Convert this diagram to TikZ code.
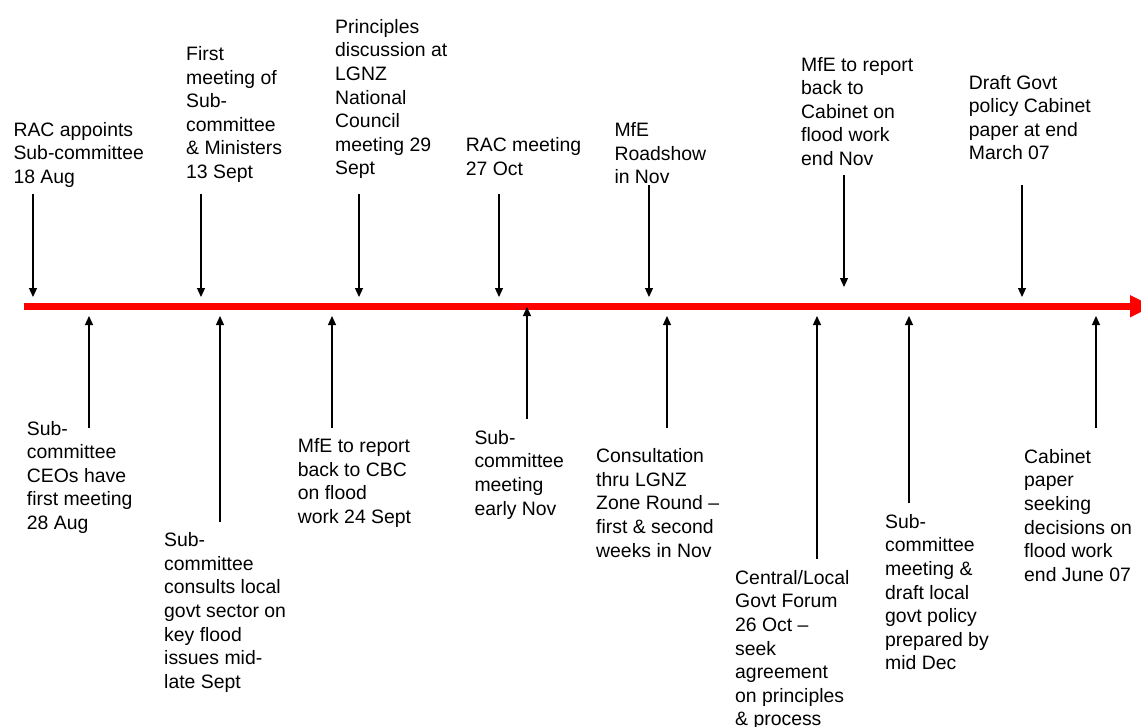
\documentclass[tikz,border=0pt]{standalone}
\usepackage{fontspec}
\setmainfont{Liberation Sans}
\usetikzlibrary{arrows.meta}
\definecolor{tlred}{RGB}{255,0,0}
\newcommand\tlines[1]{\begin{tabular}[t]{@{}l@{}}#1\end{tabular}}
\begin{document}
\begin{tikzpicture}[x=1pt,y=-1pt,
  lbl/.style={anchor=base west, inner sep=0pt, font=\fontsize{19.4}{23.6}\selectfont},
  evt/.style={-{Triangle[length=9pt,width=8pt]}, line width=1.2pt, draw=black}]
\useasboundingbox (0,0) rectangle (1141,726);
\clip (0,0) rectangle (1141,726);
% timeline
\fill[tlred] (24,302.5) rectangle (1130,310);
\fill[tlred] (1130,295) -- (1152,306.25) -- (1130,317.5) -- cycle;
% top labels
\node[lbl] (t1) at (13.3,136) {\tlines{RAC appoints\\Sub-committee\\18 Aug}};
\node[lbl] (t2) at (186,60.5) {\tlines{First\\meeting of\\Sub-\\committee\\\& Ministers\\13 Sept}};
\node[lbl] (t3) at (335,33.3) {\tlines{Principles\\discussion at\\LGNZ\\National\\Council\\meeting 29\\Sept}};
\node[lbl] (t4) at (465.7,151.7) {\tlines{RAC meeting\\27 Oct}};
\node[lbl] (t5) at (614.3,136.7) {\tlines{MfE\\Roadshow\\in Nov}};
\node[lbl] (t6) at (801,71) {\tlines{MfE to report\\back to\\Cabinet on\\flood work\\end Nov}};
\node[lbl] (t7) at (968.7,89) {\tlines{Draft Govt\\policy Cabinet\\paper at end\\March 07}};
% bottom labels
\node[lbl] (b1) at (26.7,435) {\tlines{Sub-\\committee\\CEOs have\\first meeting\\28 Aug}};
\node[lbl] (b2) at (164,546.7) {\tlines{Sub-\\committee\\consults local\\govt sector on\\key flood\\issues mid-\\late Sept}};
\node[lbl] (b3) at (297.7,452.7) {\tlines{MfE to report\\back to CBC\\on flood\\work 24 Sept}};
\node[lbl] (b4) at (474.3,444.3) {\tlines{Sub-\\committee\\meeting\\early Nov}};
\node[lbl] (b5) at (596,462.7) {\tlines{Consultation\\thru LGNZ\\Zone Round –\\first \& second\\weeks in Nov}};
\node[lbl] (b6) at (735,584.3) {\tlines{Central/Local\\Govt Forum\\26 Oct –\\seek\\agreement\\on principles\\\& process}};
\node[lbl] (b7) at (885,528.3) {\tlines{Sub-\\committee\\meeting \&\\draft local\\govt policy\\prepared by\\mid Dec}};
\node[lbl] (b8) at (1024,463.3) {\tlines{Cabinet\\paper\\seeking\\decisions on\\flood work\\end June 07}};
% top arrow coordinates
\coordinate (ta1) at (33,194);   \coordinate (tb1) at (33,297);
\coordinate (ta2) at (201,194);  \coordinate (tb2) at (201,297);
\coordinate (ta3) at (359,194);  \coordinate (tb3) at (359,297);
\coordinate (ta4) at (499,194);  \coordinate (tb4) at (499,297);
\coordinate (ta5) at (649,185);  \coordinate (tb5) at (649,297);
\coordinate (ta6) at (844,175);  \coordinate (tb6) at (844,287);
\coordinate (ta7) at (1022,185); \coordinate (tb7) at (1022,297);
\foreach \i in {1,...,7} \draw[evt] (ta\i) -- (tb\i);
% bottom arrow coordinates
\coordinate (ba1) at (89,428);   \coordinate (bb1) at (89,316);
\coordinate (ba2) at (220,522);  \coordinate (bb2) at (220,316);
\coordinate (ba3) at (332,428);  \coordinate (bb3) at (332,316);
\coordinate (ba4) at (527,419);  \coordinate (bb4) at (527,307);
\coordinate (ba5) at (667,428);  \coordinate (bb5) at (667,316);
\coordinate (ba6) at (817,559);  \coordinate (bb6) at (817,316);
\coordinate (ba7) at (909,503);  \coordinate (bb7) at (909,316);
\coordinate (ba8) at (1096,428); \coordinate (bb8) at (1096,316);
\foreach \i in {1,...,8} \draw[evt] (ba\i) -- (bb\i);
\end{tikzpicture}
\end{document}
